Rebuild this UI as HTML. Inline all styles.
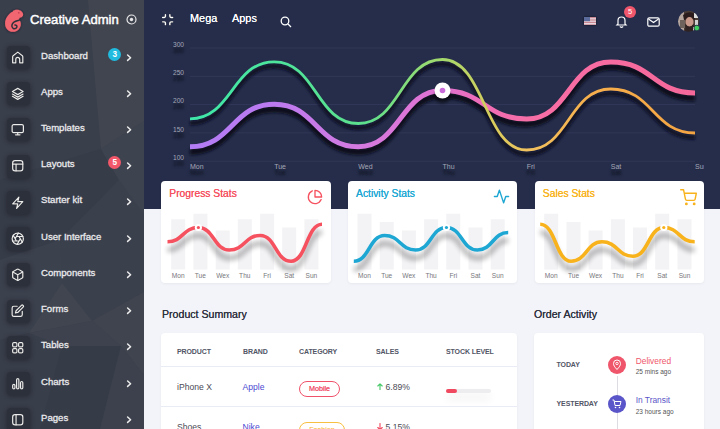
<!DOCTYPE html><html><head><meta charset="utf-8"><style>
*{margin:0;padding:0;box-sizing:border-box}
html,body{width:720px;height:429px;overflow:hidden;background:#f3f4f9;font-family:"Liberation Sans", sans-serif}
.a{position:absolute}
.side{left:0;top:0;width:144px;height:429px;background:#3b404d;overflow:hidden}
.navy{left:144px;top:0;width:576px;height:209px;background:#252d4a}
.brand{left:30px;top:11.6px;color:#fff;font-size:13.1px;font-weight:normal;-webkit-text-stroke:0.45px #fff;white-space:nowrap}
.mi{color:#e6e6e8;font-size:9.6px;font-weight:normal;white-space:nowrap;left:41px;-webkit-text-stroke:0.3px #ececee}
.ib{left:7px;width:23px;height:23px;border-radius:4px;background:#2c303b;box-shadow:0 1px 4px 1px rgba(18,20,26,.4)}
.chev{left:125.2px;width:4.4px;height:4.4px;border-right:1.6px solid #ececec;border-top:1.6px solid #ececec;transform:rotate(45deg)}
.badge{width:13px;height:13px;border-radius:6.5px;color:#fff;font-size:8.2px;font-weight:bold;text-align:center;line-height:13px;left:108.3px}
.hdr{color:#fff;font-size:10.9px;font-weight:normal;white-space:nowrap;text-shadow:0 0 0.5px #fff}
.card{background:#fff;border-radius:4px;box-shadow:0 1px 3px rgba(0,0,0,.05)}
.ct{font-size:10.3px;white-space:nowrap;text-shadow:0 0 0.3px currentColor}
.dl{font-size:6.6px;color:#77777d;text-align:center;width:22px}
.th{font-size:7px;font-weight:bold;color:#525666;white-space:nowrap;top:348px;letter-spacing:-0.1px}
.td{font-size:8.6px;color:#4a4a55;white-space:nowrap}
.ttl{font-size:10.6px;color:#2f3240;white-space:nowrap;font-weight:normal;text-shadow:0 0 0.6px #2f3240}
.ax{font-size:7px;color:#a4a6b6;white-space:nowrap;text-shadow:0 6px 2.5px rgba(0,0,0,.75)}
</style></head><body><div class="a side">
<svg class="a" style="left:0;top:0" width="144" height="429" viewBox="0 0 144 429">
<polygon points="0,0 88,0 101,149 0,180" fill="#3a3f4c"/>
<polygon points="88,0 144,0 144,121 101,149" fill="#41454f"/>
<polygon points="0,180 101,149 119,180 60,240 0,260" fill="#373c49"/>
<polygon points="101,149 144,121 144,215 119,180" fill="#3e4350"/>
<polygon points="119,180 144,215 144,292 92,321 62,283 60,240" fill="#3b404d"/>
<polygon points="0,260 60,240 62,283 29,333 0,340" fill="#3c414e"/>
<polygon points="62,283 92,321 29,333" fill="#41454f"/>
<polygon points="92,321 144,292 144,375 121,346" fill="#40444f"/>
<polygon points="0,340 29,333 62,346 40,429 0,429" fill="#393e4b"/>
<polygon points="29,333 92,321 121,346 62,346" fill="#3d424e"/>
<polygon points="62,346 121,346 100,429 40,429" fill="#363b48"/>
<polygon points="121,346 144,375 144,429 100,429" fill="#3c414d"/>
</svg>
</div>
<svg class="a" style="left:0;top:0" width="30" height="40" viewBox="0 0 30 40"><defs><filter id="lg" x="-30%" y="-30%" width="160%" height="160%"><feDropShadow dx="0" dy="0.3" stdDeviation="0.9" flood-color="#1c1f28" flood-opacity="1"/></filter></defs>
<g filter="url(#lg)"><path d="M12.5 11.3 C15 9.3 19 9.3 21.3 11.3 C22.8 12.4 23.4 14 23 15.6 C22.2 17.2 20.8 17.6 19.6 17.8 L18.9 19.4 C20.3 20.5 20.9 22.3 20.8 24.5 C20.5 28.5 17.5 31.8 13 31.8 C8.5 31.8 5.1 28.5 5.1 23.5 C5.1 18.5 8.5 13.8 13 11.3 Z" fill="#f26672"/>
<path d="M19.2 20.3 C16.5 21 12.6 21.4 11.9 25.2 C11.4 28.3 14.2 29.4 16.1 28.2 C17.6 27 17.1 24.8 14.9 25" fill="none" stroke="#2e3139" stroke-width="1.5" stroke-linecap="round"/>
<circle cx="18.8" cy="12.8" r="0.9" fill="#c84454"/><path d="M11.8 11.6 L13.2 10.6" stroke="#2e3139" stroke-width="0.7"/></g></svg>
<div class="a brand">Creative Admin</div>
<svg class="a" style="left:126px;top:14px" width="11" height="11" viewBox="0 0 11 11"><circle cx="5.5" cy="5.5" r="4.5" fill="none" stroke="#e8e8ea" stroke-width="1.2"/><circle cx="5.5" cy="5.5" r="1.7" fill="#e8e8ea"/></svg>
<div class="a ib" style="top:46.0px"></div>
<svg class="a" style="left:11.45px;top:50.8px;filter:drop-shadow(0 0.5px 0.6px rgba(0,0,0,.8))" width="13.5" height="13.5" viewBox="0 0 24 24" fill="none" stroke="#ececec" stroke-width="2.2" stroke-linecap="round" stroke-linejoin="round"><path d="M3 21 V10 Q3 9 3.8 8.3 L12 2 L20.2 8.3 Q21 9 21 10 V21 H15.5 V15 A3.5 3.5 0 0 0 8.5 15 V21 Z"/></svg>
<div class="a mi" style="top:49.5px">Dashboard</div>
<svg class="a" style="left:125px;top:52.5px" width="9" height="10" viewBox="0 0 9 10" fill="none" stroke="#ececec" stroke-width="1.5" stroke-linecap="round" stroke-linejoin="round"><path d="M2.6 2 L5.6 4.7 L2.6 7.4"/></svg>
<div class="a ib" style="top:82.2px"></div>
<svg class="a" style="left:11.45px;top:87.0px;filter:drop-shadow(0 0.5px 0.6px rgba(0,0,0,.8))" width="13.5" height="13.5" viewBox="0 0 24 24" fill="none" stroke="#ececec" stroke-width="2.2" stroke-linecap="round" stroke-linejoin="round"><path d="M12 2.5 L21.5 8 L12 13.5 L2.5 8 Z"/><path d="M2.5 12.5 L12 18 L21.5 12.5"/><path d="M2.5 16.5 L12 22 L21.5 16.5"/></svg>
<div class="a mi" style="top:85.7px">Apps</div>
<svg class="a" style="left:125px;top:88.7px" width="9" height="10" viewBox="0 0 9 10" fill="none" stroke="#ececec" stroke-width="1.5" stroke-linecap="round" stroke-linejoin="round"><path d="M2.6 2 L5.6 4.7 L2.6 7.4"/></svg>
<div class="a ib" style="top:118.4px"></div>
<svg class="a" style="left:11.45px;top:123.2px;filter:drop-shadow(0 0.5px 0.6px rgba(0,0,0,.8))" width="13.5" height="13.5" viewBox="0 0 24 24" fill="none" stroke="#ececec" stroke-width="2.2" stroke-linecap="round" stroke-linejoin="round"><rect x="2" y="3" width="20" height="14" rx="2.5"/><path d="M8 21 H16 M12 17 V21"/></svg>
<div class="a mi" style="top:121.9px">Templates</div>
<svg class="a" style="left:125px;top:124.9px" width="9" height="10" viewBox="0 0 9 10" fill="none" stroke="#ececec" stroke-width="1.5" stroke-linecap="round" stroke-linejoin="round"><path d="M2.6 2 L5.6 4.7 L2.6 7.4"/></svg>
<div class="a ib" style="top:154.7px"></div>
<svg class="a" style="left:11.45px;top:159.4px;filter:drop-shadow(0 0.5px 0.6px rgba(0,0,0,.8))" width="13.5" height="13.5" viewBox="0 0 24 24" fill="none" stroke="#ececec" stroke-width="2.2" stroke-linecap="round" stroke-linejoin="round"><rect x="3" y="3" width="18" height="18" rx="4"/><path d="M3 9 H21 M9 21 V9"/></svg>
<div class="a mi" style="top:158.2px">Layouts</div>
<svg class="a" style="left:125px;top:161.2px" width="9" height="10" viewBox="0 0 9 10" fill="none" stroke="#ececec" stroke-width="1.5" stroke-linecap="round" stroke-linejoin="round"><path d="M2.6 2 L5.6 4.7 L2.6 7.4"/></svg>
<div class="a ib" style="top:190.9px"></div>
<svg class="a" style="left:11.45px;top:195.6px;filter:drop-shadow(0 0.5px 0.6px rgba(0,0,0,.8))" width="13.5" height="13.5" viewBox="0 0 24 24" fill="none" stroke="#ececec" stroke-width="2.2" stroke-linecap="round" stroke-linejoin="round"><path d="M14 2 L3 14 H12 L10 22 L21 10 H12 Z"/></svg>
<div class="a mi" style="top:194.4px">Starter kit</div>
<svg class="a" style="left:125px;top:197.4px" width="9" height="10" viewBox="0 0 9 10" fill="none" stroke="#ececec" stroke-width="1.5" stroke-linecap="round" stroke-linejoin="round"><path d="M2.6 2 L5.6 4.7 L2.6 7.4"/></svg>
<div class="a ib" style="top:227.1px"></div>
<svg class="a" style="left:11.45px;top:231.8px;filter:drop-shadow(0 0.5px 0.6px rgba(0,0,0,.8))" width="13.5" height="13.5" viewBox="0 0 24 24" fill="none" stroke="#ececec" stroke-width="2.2" stroke-linecap="round" stroke-linejoin="round"><circle cx="12" cy="12" r="10"/><path d="M14.31 8 L20.05 17.94 M9.69 8 H21.17 M7.38 12 L13.12 2.06 M9.69 16 L3.95 6.06 M14.31 16 H2.83 M16.62 12 L10.88 21.94"/></svg>
<div class="a mi" style="top:230.6px">User Interface</div>
<svg class="a" style="left:125px;top:233.6px" width="9" height="10" viewBox="0 0 9 10" fill="none" stroke="#ececec" stroke-width="1.5" stroke-linecap="round" stroke-linejoin="round"><path d="M2.6 2 L5.6 4.7 L2.6 7.4"/></svg>
<div class="a ib" style="top:263.3px"></div>
<svg class="a" style="left:11.45px;top:268.1px;filter:drop-shadow(0 0.5px 0.6px rgba(0,0,0,.8))" width="13.5" height="13.5" viewBox="0 0 24 24" fill="none" stroke="#ececec" stroke-width="2.2" stroke-linecap="round" stroke-linejoin="round"><path d="M21 16V8a2 2 0 0 0-1-1.73l-7-4a2 2 0 0 0-2 0l-7 4A2 2 0 0 0 3 8v8a2 2 0 0 0 1 1.73l7 4a2 2 0 0 0 2 0l7-4A2 2 0 0 0 21 16z"/><path d="M3.27 6.96 L12 12.01 L20.73 6.96 M12 22.08 V12"/></svg>
<div class="a mi" style="top:266.8px">Components</div>
<svg class="a" style="left:125px;top:269.8px" width="9" height="10" viewBox="0 0 9 10" fill="none" stroke="#ececec" stroke-width="1.5" stroke-linecap="round" stroke-linejoin="round"><path d="M2.6 2 L5.6 4.7 L2.6 7.4"/></svg>
<div class="a ib" style="top:299.5px"></div>
<svg class="a" style="left:11.45px;top:304.3px;filter:drop-shadow(0 0.5px 0.6px rgba(0,0,0,.8))" width="13.5" height="13.5" viewBox="0 0 24 24" fill="none" stroke="#ececec" stroke-width="2.2" stroke-linecap="round" stroke-linejoin="round"><path d="M11 4H5a3 3 0 0 0-3 3v12a3 3 0 0 0 3 3h12a3 3 0 0 0 3-3v-6"/><path d="M18.5 2.5a2.121 2.121 0 0 1 3 3L12 15l-4 1 1-4 9.5-9.5z"/></svg>
<div class="a mi" style="top:303.0px">Forms</div>
<svg class="a" style="left:125px;top:306.0px" width="9" height="10" viewBox="0 0 9 10" fill="none" stroke="#ececec" stroke-width="1.5" stroke-linecap="round" stroke-linejoin="round"><path d="M2.6 2 L5.6 4.7 L2.6 7.4"/></svg>
<div class="a ib" style="top:335.8px"></div>
<svg class="a" style="left:11.45px;top:340.5px;filter:drop-shadow(0 0.5px 0.6px rgba(0,0,0,.8))" width="13.5" height="13.5" viewBox="0 0 24 24" fill="none" stroke="#ececec" stroke-width="2.2" stroke-linecap="round" stroke-linejoin="round"><rect x="3" y="3" width="7.5" height="7.5" rx="2"/><rect x="13.5" y="3" width="7.5" height="7.5" rx="2"/><rect x="3" y="13.5" width="7.5" height="7.5" rx="2"/><rect x="13.5" y="13.5" width="7.5" height="7.5" rx="2"/></svg>
<div class="a mi" style="top:339.3px">Tables</div>
<svg class="a" style="left:125px;top:342.3px" width="9" height="10" viewBox="0 0 9 10" fill="none" stroke="#ececec" stroke-width="1.5" stroke-linecap="round" stroke-linejoin="round"><path d="M2.6 2 L5.6 4.7 L2.6 7.4"/></svg>
<div class="a ib" style="top:372.0px"></div>
<svg class="a" style="left:11.45px;top:376.7px;filter:drop-shadow(0 0.5px 0.6px rgba(0,0,0,.8))" width="13.5" height="13.5" viewBox="0 0 24 24" fill="none" stroke="#ececec" stroke-width="2.2" stroke-linecap="round" stroke-linejoin="round"><rect x="3" y="13" width="4" height="8" rx="2"/><rect x="10" y="3" width="4" height="18" rx="2"/><rect x="17" y="8" width="4" height="13" rx="2"/></svg>
<div class="a mi" style="top:375.5px">Charts</div>
<svg class="a" style="left:125px;top:378.5px" width="9" height="10" viewBox="0 0 9 10" fill="none" stroke="#ececec" stroke-width="1.5" stroke-linecap="round" stroke-linejoin="round"><path d="M2.6 2 L5.6 4.7 L2.6 7.4"/></svg>
<div class="a ib" style="top:408.2px"></div>
<svg class="a" style="left:11.45px;top:412.9px;filter:drop-shadow(0 0.5px 0.6px rgba(0,0,0,.8))" width="13.5" height="13.5" viewBox="0 0 24 24" fill="none" stroke="#ececec" stroke-width="2.2" stroke-linecap="round" stroke-linejoin="round"><rect x="3" y="3" width="18" height="18" rx="4"/><path d="M9 3 V21"/></svg>
<div class="a mi" style="top:411.7px">Pages</div>
<svg class="a" style="left:125px;top:414.7px" width="9" height="10" viewBox="0 0 9 10" fill="none" stroke="#ececec" stroke-width="1.5" stroke-linecap="round" stroke-linejoin="round"><path d="M2.6 2 L5.6 4.7 L2.6 7.4"/></svg>
<div class="a badge" style="top:47.8px;background:#20bbdf">3</div>
<div class="a badge" style="top:156.3px;background:#f2576a">5</div>
<div class="a navy"></div>
<svg class="a" style="left:161.4px;top:13.3px;filter:drop-shadow(0 0.5px 0.6px #000)" width="13.3" height="13.3" viewBox="0 0 24 24" fill="none" stroke="#fff" stroke-width="2.6" stroke-linecap="round" stroke-linejoin="round"><path d="M8 3v3a2 2 0 0 1-2 2H3m18 0h-3a2 2 0 0 1-2-2V3m0 18v-3a2 2 0 0 1 2-2h3M3 16h3a2 2 0 0 1 2 2v3"/></svg>
<div class="a hdr" style="left:190px;top:12px">Mega</div>
<div class="a hdr" style="left:232px;top:12px">Apps</div>
<svg class="a" style="left:280px;top:16px" width="12" height="12" viewBox="0 0 12 12" fill="none" stroke="#fff" stroke-width="1.3"><circle cx="5" cy="5" r="3.8"/><path d="M8 8 L11 11"/></svg>
<svg class="a" style="left:583.5px;top:16.5px;filter:drop-shadow(0 0.5px 0.8px rgba(0,0,0,.7))" width="12.5" height="8.5" viewBox="0 0 12.5 8.5"><rect width="12.5" height="8.5" fill="#e6d8de"/><rect y="0" width="12.5" height="1.2" fill="#c98894"/><rect y="2.4" width="12.5" height="1.2" fill="#c98894"/><rect y="4.8" width="12.5" height="1.2" fill="#c98894"/><rect y="7.3" width="12.5" height="1.2" fill="#c98894"/><rect width="6" height="4.2" fill="#5b6b9c"/></svg>
<svg class="a" style="left:615px;top:15px" width="13" height="13" viewBox="0 0 13 13" fill="none" stroke="#fff" stroke-width="1.2" stroke-linecap="round"><path d="M3 9 V5.5 Q3 2 6.5 2 Q10 2 10 5.5 V9 L11 10 H2 Z M5.2 11.8 Q6.5 12.8 7.8 11.8"/></svg>
<div class="a" style="left:624px;top:6px;width:12px;height:12px;border-radius:6px;background:#f0566b;color:#fff;font-size:7.5px;text-align:center;line-height:12px">5</div>
<svg class="a" style="left:647px;top:17px" width="13" height="10" viewBox="0 0 13 10" fill="none" stroke="#fff" stroke-width="1.2"><rect x="0.8" y="0.8" width="11.4" height="8.4" rx="1.5"/><path d="M1.5 2 L6.5 5.5 L11.5 2"/></svg>
<svg class="a" style="left:677px;top:10px" width="24" height="24" viewBox="0 0 24 24"><defs><clipPath id="av"><circle cx="11.5" cy="11.3" r="10.5"/></clipPath><filter id="avb"><feGaussianBlur stdDeviation="0.5"/></filter></defs><g clip-path="url(#av)"><g filter="url(#avb)"><rect width="24" height="24" fill="#4a3a35"/><rect x="0" y="0" width="7" height="24" fill="#b4a49e"/><rect x="3" y="10" width="5" height="8" fill="#6e625c"/><path d="M6 5 Q12 0 18 4 L18 10 Q12 7 7 10 Z" fill="#2a1f1c"/><ellipse cx="12.5" cy="12" rx="4" ry="5" fill="#c9998b"/><path d="M8.5 14 Q12.5 19 16.5 14 L17 24 H8 Z" fill="#2e2320"/><rect x="17" y="3" width="4" height="5" fill="#dcdcdc"/><rect x="18" y="10" width="3" height="5" fill="#d0d0d0"/><rect x="16" y="17" width="3" height="4" fill="#c8c0c0"/></g></g><circle cx="19.8" cy="18" r="2.8" fill="#40d060" stroke="#262c47" stroke-width="0.8"/></svg>
<svg class="a" style="left:0;top:0" width="720" height="209" viewBox="0 0 720 209"><defs>
<linearGradient id="gA" x1="190" y1="0" x2="695" y2="0" gradientUnits="userSpaceOnUse"><stop offset="0" stop-color="#3ee8aa"/><stop offset="0.35" stop-color="#5ee08c"/><stop offset="0.5" stop-color="#a4d96c"/><stop offset="0.6" stop-color="#d8cc5c"/><stop offset="0.67" stop-color="#f2c25e"/><stop offset="0.8" stop-color="#f6ae4c"/><stop offset="1" stop-color="#f5a442"/></linearGradient>
<linearGradient id="gB" x1="190" y1="0" x2="695" y2="0" gradientUnits="userSpaceOnUse"><stop offset="0" stop-color="#b27cf5"/><stop offset="0.17" stop-color="#bc7af0"/><stop offset="0.33" stop-color="#d47ae0"/><stop offset="0.5" stop-color="#e072d2"/><stop offset="0.58" stop-color="#ef6cb6"/><stop offset="0.67" stop-color="#f76ea6"/><stop offset="1" stop-color="#f6689a"/></linearGradient>
<filter id="sh" x="-10%" y="-30%" width="120%" height="160%"><feGaussianBlur stdDeviation="1.5"/></filter>
</defs><line x1="190" y1="48.0" x2="695" y2="48.0" stroke="#353b5c" stroke-width="0.8"/><line x1="190" y1="76.3" x2="695" y2="76.3" stroke="#353b5c" stroke-width="0.8"/><line x1="190" y1="104.6" x2="695" y2="104.6" stroke="#353b5c" stroke-width="0.8"/><line x1="190" y1="132.9" x2="695" y2="132.9" stroke="#353b5c" stroke-width="0.8"/><line x1="190" y1="161.2" x2="695" y2="161.2" stroke="#353b5c" stroke-width="0.8"/><path d="M190.0 118.8 C232.1 118.8 232.1 61.8 274.2 61.8 C316.2 61.8 316.2 123.5 358.3 123.5 C400.4 123.5 400.4 59.5 442.5 59.5 C484.6 59.5 484.6 150.0 526.7 150.0 C568.8 150.0 568.8 89.0 610.8 89.0 C652.9 89.0 652.9 133.0 695.0 133.0" fill="none" stroke="#0e1120" stroke-width="4" transform="translate(0,4.5)" filter="url(#sh)" opacity="1"/><path d="M190.0 146.7 C232.1 146.7 232.1 104.2 274.2 104.2 C316.2 104.2 316.2 146.7 358.3 146.7 C400.4 146.7 400.4 90.5 442.5 90.5 C484.6 90.5 484.6 119.0 526.7 119.0 C568.8 119.0 568.8 62.0 610.8 62.0 C652.9 62.0 652.9 93.0 695.0 93.0" fill="none" stroke="#0b0e1a" stroke-width="6.5" transform="translate(0,5)" filter="url(#sh)" opacity="1"/><path d="M190.0 146.7 C232.1 146.7 232.1 104.2 274.2 104.2 C316.2 104.2 316.2 146.7 358.3 146.7 C400.4 146.7 400.4 90.5 442.5 90.5 C484.6 90.5 484.6 119.0 526.7 119.0 C568.8 119.0 568.8 62.0 610.8 62.0 C652.9 62.0 652.9 93.0 695.0 93.0" fill="none" stroke="url(#gB)" stroke-width="5"/><path d="M190.0 118.8 C232.1 118.8 232.1 61.8 274.2 61.8 C316.2 61.8 316.2 123.5 358.3 123.5 C400.4 123.5 400.4 59.5 442.5 59.5 C484.6 59.5 484.6 150.0 526.7 150.0 C568.8 150.0 568.8 89.0 610.8 89.0 C652.9 89.0 652.9 133.0 695.0 133.0" fill="none" stroke="url(#gA)" stroke-width="2.8"/><circle cx="442.5" cy="95.5" r="8" fill="#000" opacity="0.5" filter="url(#sh)"/><circle cx="442.5" cy="90.5" r="8" fill="#fff"/><circle cx="442.5" cy="90.5" r="2.8" fill="#c86ad8"/></svg>
<div class="a ax" style="left:173px;top:40.7px;font-size:6.6px">300</div>
<div class="a ax" style="left:173px;top:69.0px;font-size:6.6px">250</div>
<div class="a ax" style="left:173px;top:97.3px;font-size:6.6px">200</div>
<div class="a ax" style="left:173px;top:125.6px;font-size:6.6px">150</div>
<div class="a ax" style="left:173px;top:153.9px;font-size:6.6px">100</div>
<div class="a ax" style="left:190.0px;top:163px;">Mon</div>
<div class="a ax" style="left:274.2px;top:163px;">Tue</div>
<div class="a ax" style="left:358.3px;top:163px;">Wed</div>
<div class="a ax" style="left:442.5px;top:163px;">Thu</div>
<div class="a ax" style="left:526.7px;top:163px;">Fri</div>
<div class="a ax" style="left:610.8px;top:163px;">Sat</div>
<div class="a ax" style="left:695.0px;top:163px;width:9px;overflow:hidden">Sun</div>
<div class="a card" style="left:161.0px;top:181px;width:169.7px;height:102px"></div>
<div class="a ct" style="left:169.3px;top:188.2px;color:#f5515f">Progress Stats</div>
<svg class="a" style="left:0;top:0" width="720" height="290" viewBox="0 0 720 290"><rect x="171.2" y="219.25" width="14" height="50.2" fill="#f3f3f6"/><rect x="193.4" y="213.75" width="14" height="55.8" fill="#f3f3f6"/><rect x="215.7" y="230.5" width="14" height="39.0" fill="#f3f3f6"/><rect x="237.8" y="219.25" width="14" height="50.2" fill="#f3f3f6"/><rect x="260.1" y="213.75" width="14" height="55.8" fill="#f3f3f6"/><rect x="282.2" y="227.5" width="14" height="42.0" fill="#f3f3f6"/><rect x="304.4" y="219.25" width="14" height="50.2" fill="#f3f3f6"/><path d="M167.5 241.8 C182.9 241.8 182.9 227.5 198.4 227.5 C213.9 227.5 213.9 250.0 229.3 250.0 C244.8 250.0 244.8 235.5 260.2 235.5 C275.6 235.5 275.6 261.2 291.1 261.2 C306.6 261.2 306.6 224.2 322.0 224.2" fill="none" stroke="#000" stroke-width="5" opacity="0.28" transform="translate(0,8)" filter="url(#sh2)"/><path d="M167.5 241.8 C182.9 241.8 182.9 227.5 198.4 227.5 C213.9 227.5 213.9 250.0 229.3 250.0 C244.8 250.0 244.8 235.5 260.2 235.5 C275.6 235.5 275.6 261.2 291.1 261.2 C306.6 261.2 306.6 224.2 322.0 224.2" fill="none" stroke="#f5515f" stroke-width="3.6" stroke-linecap="butt"/><circle cx="198.4" cy="227.5" r="3.6" fill="#fff"/><circle cx="198.4" cy="227.5" r="1.6" fill="#f5515f"/></svg>
<div class="a dl" style="left:167.2px;top:272px">Mon</div>
<div class="a dl" style="left:189.4px;top:272px">Tue</div>
<div class="a dl" style="left:211.7px;top:272px">Wex</div>
<div class="a dl" style="left:233.8px;top:272px">Thu</div>
<div class="a dl" style="left:256.1px;top:272px">Fri</div>
<div class="a dl" style="left:278.2px;top:272px">Sat</div>
<div class="a dl" style="left:300.4px;top:272px">Sun</div>
<div class="a card" style="left:347.75px;top:181px;width:169.7px;height:102px"></div>
<div class="a ct" style="left:356.05px;top:188.2px;color:#1ea7d3">Activity Stats</div>
<svg class="a" style="left:0;top:0" width="720" height="290" viewBox="0 0 720 290"><rect x="357.5" y="213.75" width="14" height="55.8" fill="#f3f3f6"/><rect x="379.7" y="222" width="14" height="47.5" fill="#f3f3f6"/><rect x="401.9" y="230.5" width="14" height="39.0" fill="#f3f3f6"/><rect x="424.1" y="219.25" width="14" height="50.2" fill="#f3f3f6"/><rect x="446.3" y="213.75" width="14" height="55.8" fill="#f3f3f6"/><rect x="468.5" y="227.5" width="14" height="42.0" fill="#f3f3f6"/><rect x="490.7" y="219.25" width="14" height="50.2" fill="#f3f3f6"/><path d="M353.8 261.2 C369.2 261.2 369.2 235.5 384.6 235.5 C400.1 235.5 400.1 250.0 415.6 250.0 C431.0 250.0 431.0 227.5 446.4 227.5 C461.9 227.5 461.9 250.0 477.4 250.0 C492.8 250.0 492.8 232.5 508.2 232.5" fill="none" stroke="#000" stroke-width="5" opacity="0.28" transform="translate(0,8)" filter="url(#sh2)"/><path d="M353.8 261.2 C369.2 261.2 369.2 235.5 384.6 235.5 C400.1 235.5 400.1 250.0 415.6 250.0 C431.0 250.0 431.0 227.5 446.4 227.5 C461.9 227.5 461.9 250.0 477.4 250.0 C492.8 250.0 492.8 232.5 508.2 232.5" fill="none" stroke="#1ea7d3" stroke-width="3.6" stroke-linecap="butt"/><circle cx="446.45" cy="227.5" r="3.6" fill="#fff"/><circle cx="446.45" cy="227.5" r="1.6" fill="#1ea7d3"/></svg>
<div class="a dl" style="left:353.5px;top:272px">Mon</div>
<div class="a dl" style="left:375.7px;top:272px">Tue</div>
<div class="a dl" style="left:397.9px;top:272px">Wex</div>
<div class="a dl" style="left:420.1px;top:272px">Thu</div>
<div class="a dl" style="left:442.3px;top:272px">Fri</div>
<div class="a dl" style="left:464.5px;top:272px">Sat</div>
<div class="a dl" style="left:486.7px;top:272px">Sun</div>
<div class="a card" style="left:534.5px;top:181px;width:169.7px;height:102px"></div>
<div class="a ct" style="left:542.8px;top:188.2px;color:#f8b21b">Sales Stats</div>
<svg class="a" style="left:0;top:0" width="720" height="290" viewBox="0 0 720 290"><rect x="544.2" y="213.75" width="14" height="55.8" fill="#f3f3f6"/><rect x="566.5" y="222" width="14" height="47.5" fill="#f3f3f6"/><rect x="588.6" y="230.5" width="14" height="39.0" fill="#f3f3f6"/><rect x="610.9" y="219.25" width="14" height="50.2" fill="#f3f3f6"/><rect x="633.0" y="227.5" width="14" height="42.0" fill="#f3f3f6"/><rect x="655.2" y="213.75" width="14" height="55.8" fill="#f3f3f6"/><rect x="677.5" y="219.25" width="14" height="50.2" fill="#f3f3f6"/><path d="M540.2 224.2 C555.7 224.2 555.7 261.2 571.1 261.2 C586.5 261.2 586.5 241.8 602.0 241.8 C617.5 241.8 617.5 256.2 632.9 256.2 C648.4 256.2 648.4 227.5 663.8 227.5 C679.2 227.5 679.2 241.8 694.7 241.8" fill="none" stroke="#000" stroke-width="5" opacity="0.28" transform="translate(0,8)" filter="url(#sh2)"/><path d="M540.2 224.2 C555.7 224.2 555.7 261.2 571.1 261.2 C586.5 261.2 586.5 241.8 602.0 241.8 C617.5 241.8 617.5 256.2 632.9 256.2 C648.4 256.2 648.4 227.5 663.8 227.5 C679.2 227.5 679.2 241.8 694.7 241.8" fill="none" stroke="#f8b21b" stroke-width="3.6" stroke-linecap="butt"/><circle cx="663.8000000000001" cy="227.5" r="3.6" fill="#fff"/><circle cx="663.8000000000001" cy="227.5" r="1.6" fill="#f8b21b"/></svg>
<div class="a dl" style="left:540.2px;top:272px">Mon</div>
<div class="a dl" style="left:562.5px;top:272px">Tue</div>
<div class="a dl" style="left:584.6px;top:272px">Wex</div>
<div class="a dl" style="left:606.9px;top:272px">Thu</div>
<div class="a dl" style="left:629.0px;top:272px">Fri</div>
<div class="a dl" style="left:651.2px;top:272px">Sat</div>
<div class="a dl" style="left:673.5px;top:272px">Sun</div>
<svg width="0" height="0" class="a"><defs><filter id="sh2" x="-10%" y="-50%" width="120%" height="200%"><feGaussianBlur stdDeviation="2.6"/></filter></defs></svg>
<svg class="a" style="left:306.8px;top:188.8px" width="16" height="16" viewBox="0 0 24 24" fill="none" stroke="#f5515f" stroke-width="2" stroke-linecap="round" stroke-linejoin="round"><path d="M21.21 15.89A10 10 0 1 1 8 2.83"/><path d="M22 12A10 10 0 0 0 12 2v10z"/></svg>
<svg class="a" style="left:492.5px;top:188px" width="17" height="17" viewBox="0 0 24 24" fill="none" stroke="#1ea7d3" stroke-width="2" stroke-linecap="round" stroke-linejoin="round"><polyline points="2 12 6 12 9 3 15 21 18 12 22 12"/></svg>
<svg class="a" style="left:679.5px;top:188.5px" width="17" height="17" viewBox="0 0 24 24" fill="none" stroke="#f8b21b" stroke-width="2" stroke-linecap="round" stroke-linejoin="round"><circle cx="9" cy="21" r="1"/><circle cx="20" cy="21" r="1"/><path d="M1 1h4l2.68 13.39a2 2 0 0 0 2 1.61h9.72a2 2 0 0 0 2-1.61L23 6H6"/></svg>
<div class="a ttl" style="left:162px;top:308px">Product Summary</div>
<div class="a card" style="left:161px;top:333px;width:356px;height:120px"></div>
<div class="a" style="left:161px;top:366px;width:356px;height:1px;background:#e9ecf4"></div>
<div class="a" style="left:161px;top:406px;width:356px;height:1px;background:#e9ecf4"></div>
<div class="a th" style="left:177px">PRODUCT</div>
<div class="a th" style="left:243px">BRAND</div>
<div class="a th" style="left:299px">CATEGORY</div>
<div class="a th" style="left:376px">SALES</div>
<div class="a th" style="left:446px">STOCK LEVEL</div>
<div class="a td" style="left:177px;top:381.5px">iPhone X</div>
<div class="a td" style="left:242.5px;top:381.5px;color:#4c4ad2">Apple</div>
<div class="a" style="left:299px;top:381px;width:41px;height:16px;border:1px solid #f0526b;border-radius:8px;color:#f0526b;font-size:7.2px;text-align:center;line-height:14px;font-weight:normal;text-shadow:0 0 0.3px #f0526b">Mobile</div>
<svg class="a" style="left:376.5px;top:382.5px" width="6" height="7.5" viewBox="0 0 6 7.5" fill="none" stroke="#44c866" stroke-width="1.1" stroke-linecap="round" stroke-linejoin="round"><path d="M3 7 V0.8 M0.8 3 L3 0.8 L5.2 3"/></svg>
<div class="a td" style="left:385.5px;top:382px">6.89%</div>
<div class="a" style="left:445.5px;top:389px;width:45px;height:4px;border-radius:2px;background:#ededf0;box-shadow:0 6px 8px rgba(0,0,0,.08)"></div>
<div class="a" style="left:445.5px;top:389px;width:11px;height:4px;border-radius:2px;background:#f0485e"></div>
<div class="a td" style="left:177px;top:421.5px">Shoes</div>
<div class="a td" style="left:242.5px;top:421.5px;color:#4c4ad2">Nike</div>
<div class="a" style="left:299px;top:421.5px;width:46px;height:16px;border:1px solid #f8c040;border-radius:8px;color:#f8b21b;font-size:7.2px;text-align:center;line-height:14px;font-weight:normal">Fashion</div>
<svg class="a" style="left:376.5px;top:422.5px" width="6" height="7.5" viewBox="0 0 6 7.5" fill="none" stroke="#f0485e" stroke-width="1.1" stroke-linecap="round" stroke-linejoin="round"><path d="M3 0.5 V6.7 M0.8 4.5 L3 6.7 L5.2 4.5"/></svg>
<div class="a td" style="left:385.5px;top:422px">5.15%</div>
<div class="a ttl" style="left:534px;top:308px">Order Activity</div>
<div class="a card" style="left:534px;top:333px;width:170px;height:120px"></div>
<div class="a" style="left:616.6px;top:376px;width:1px;height:60px;background:#dcdce2"></div>
<div class="a th" style="left:556.5px;top:361px">TODAY</div>
<div class="a th" style="left:556.5px;top:400px">YESTERDAY</div>
<svg class="a" style="left:608px;top:355.7px" width="18" height="18" viewBox="0 0 18 18"><circle cx="9" cy="9" r="9" fill="#f0566b"/><path d="M9 13.5 C6.5 10.8 5.5 9.3 5.5 7.5 A3.5 3.5 0 0 1 12.5 7.5 C12.5 9.3 11.5 10.8 9 13.5 Z" fill="none" stroke="#fff" stroke-width="1"/><circle cx="9" cy="7.5" r="1.2" fill="none" stroke="#fff" stroke-width="0.9"/></svg>
<svg class="a" style="left:608px;top:394.8px" width="18" height="18" viewBox="0 0 18 18"><circle cx="9" cy="9" r="9" fill="#5a55c8"/><path d="M4.5 5 H6 L7 10.5 H12 L13 6.5 H6.5" fill="none" stroke="#fff" stroke-width="1" stroke-linejoin="round"/><circle cx="7.5" cy="12.5" r="0.8" fill="#fff"/><circle cx="11.5" cy="12.5" r="0.8" fill="#fff"/></svg>
<div class="a" style="left:635.7px;top:355.5px;font-size:8.4px;color:#f0566b;white-space:nowrap">Delivered</div>
<div class="a" style="left:635.7px;top:368px;font-size:6.5px;color:#555;white-space:nowrap">25 mins ago</div>
<div class="a" style="left:635.7px;top:395px;font-size:8.4px;color:#5a55c8;white-space:nowrap">In Transit</div>
<div class="a" style="left:635.7px;top:407.5px;font-size:6.5px;color:#555;white-space:nowrap">23 hours ago</div></body></html>
